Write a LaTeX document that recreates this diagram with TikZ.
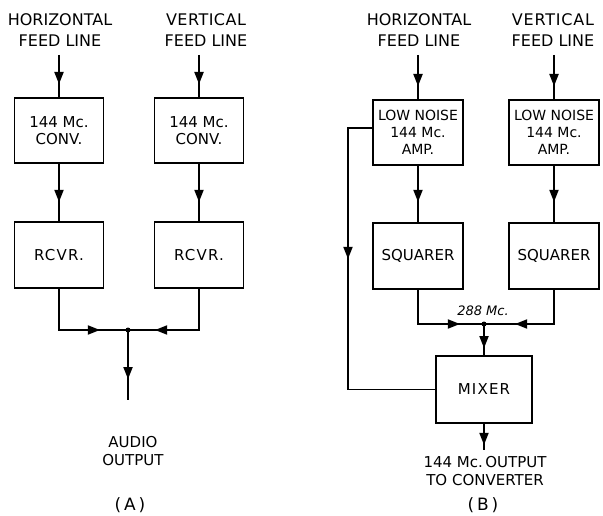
\documentclass[tikz,border=0pt]{standalone}
\usepackage{fontspec}
\setmainfont{DejaVu Sans}
\usetikzlibrary{decorations.markings}
\tikzset{
  blk/.style={draw,line width=1.6pt,minimum width=89pt,minimum height=65pt,inner sep=0pt,align=center,font=\fontsize{15}{17}\selectfont},
  wire/.style={line width=1.1pt},
  arrat/.style={postaction={decorate},decoration={markings,mark=at position #1 with {\fill (1pt,0pt) -- (-11pt,4.8pt) -- (-11pt,-4.8pt) -- cycle;}}},
  ttl/.style={font=\fontsize{16}{21}\selectfont,align=center,inner sep=0pt},
  lbl/.style={font=\fontsize{15}{18}\selectfont,align=center,inner sep=0pt},
  dotn/.style={circle,fill,inner sep=0pt,minimum size=5pt},
}
\begin{document}
\begin{tikzpicture}[x=1pt,y=-1pt]
\useasboundingbox (0,0) rectangle (603,516);
% ---------- Panel A ----------
\node[ttl] (tA1) at (60,30) {HORIZONTAL\\FEED LINE};
\node[ttl] (tA2) at (206,30) {\addfontfeature{LetterSpace=3}VERTICAL\\FEED LINE};
\coordinate (fA1) at (59,55);
\coordinate (fA2) at (199,55);
\node[blk] (cA1) at (59,130.5) {144 Mc.\\CONV.};
\node[blk] (cA2) at (199,130.5) {144 Mc.\\CONV.};
\node[blk,minimum height=66pt] (rA1) at (59,255) {\addfontfeature{LetterSpace=8}RCVR.};
\node[blk,minimum height=66pt] (rA2) at (199,255) {\addfontfeature{LetterSpace=8}RCVR.};
\node[dotn] (jA) at (128,330) {};
\coordinate (oA) at (128,400);
\node[lbl] (audio) at (133,451) {AUDIO\\OUTPUT};
\node[font=\fontsize{17}{20}\selectfont,inner sep=0pt] (labA) at (130,505) {(\,A\,)};
\draw[wire,arrat=28pt] (fA1) -- (cA1);
\draw[wire,arrat=28pt] (fA2) -- (cA2);
\draw[wire,arrat=37pt] (cA1) -- (rA1);
\draw[wire,arrat=37pt] (cA2) -- (rA2);
\draw[wire,arrat=81pt] (rA1.south) |- (jA.center);
\draw[wire,arrat=84pt] (rA2.south) |- (jA.center);
\draw[wire,arrat=48pt] (jA.center) -- (oA);
% ---------- Panel B ----------
\node[ttl] (tB1) at (419,30) {HORIZONTAL\\FEED LINE};
\node[ttl] (tB2) at (553,30) {\addfontfeature{LetterSpace=5}VERTICAL\\FEED LINE};
\coordinate (fB1) at (418,55);
\coordinate (fB2) at (554,55);
\node[blk,minimum width=90pt,font=\fontsize{14}{17}\selectfont] (lB1) at (418,132.5) {LOW NOISE\\144 Mc.\\AMP.};
\node[blk,minimum width=90pt,font=\fontsize{14}{17}\selectfont] (lB2) at (554,132.5) {LOW NOISE\\144 Mc.\\AMP.};
\node[blk,minimum width=90pt,minimum height=66pt] (sB1) at (418,256) {SQUARER};
\node[blk,minimum width=90pt,minimum height=66pt] (sB2) at (554,256) {SQUARER};
\node[dotn] (jB) at (484,324) {};
\node[font=\fontsize{13}{15}\selectfont\itshape,inner sep=0pt] (f288) at (483,311) {288 Mc.};
\node[blk,minimum width=96pt,minimum height=67pt] (mix) at (484,389.5) {\addfontfeature{LetterSpace=8}MIXER};
\coordinate (fbT) at (348,128);
\coordinate (oB) at (484,450);
\node[lbl] (outB) at (485,471) {144 Mc.\,OUTPUT\\TO CONVERTER};
\node[font=\fontsize{17}{20}\selectfont,inner sep=0pt] (labB) at (483,505) {(\,B\,)};
\draw[wire,arrat=30pt] (fB1) -- (lB1);
\draw[wire,arrat=30pt] (fB2) -- (lB2);
\draw[wire,arrat=35pt] (lB1) -- (sB1);
\draw[wire,arrat=35pt] (lB2) -- (sB2);
\draw[wire,arrat=75pt] (sB1.south) |- (jB.center);
\draw[wire,arrat=72pt] (sB2.south) |- (jB.center);
\draw[wire,arrat=23pt] (jB.center) -- (mix);
\draw[wire,arrat=20pt] (mix) -- (oB);
\draw[wire,arrat=154pt] (lB1.west |- fbT) -- (fbT) |- (mix.west);
\end{tikzpicture}
\end{document}
